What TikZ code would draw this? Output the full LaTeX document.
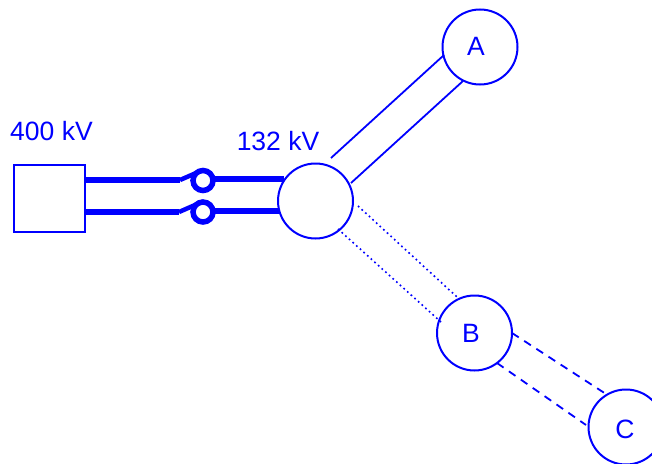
\documentclass[tikz,border=0pt]{standalone}
\usepackage{fontspec}
\setmainfont{Liberation Sans}
\begin{document}
\begin{tikzpicture}[x=1pt,y=-1pt,
  every node/.style={text=blue,font=\fontsize{26.5}{30}\selectfont,inner sep=0pt,outer sep=0pt},
  bus/.style={circle,draw=blue,line width=2pt,minimum size=75pt},
  source/.style={rectangle,draw=blue,line width=2pt,minimum width=70.5pt,minimum height=67pt},
  ring/.style={circle,draw=blue,line width=5.5pt,minimum size=20pt},
  feed/.style={draw=blue,line width=5.2pt},
  blade/.style={draw=blue,line width=4.5pt},
  lineA/.style={draw=blue,line width=1.8pt},
  lineB/.style={draw=blue,line width=1.6pt,dash pattern=on 1.7pt off 3.2pt},
  lineC/.style={draw=blue,line width=1.8pt,dash pattern=on 8pt off 6.5pt}]
\useasboundingbox (0,0) rectangle (652,463);
\begin{scope}
\clip (0,0) rectangle (652,463);
\node[source] (src) at (49.5,198.5) {};
\node[bus] (main) at (315.5,201) {};
\node[bus] (A) at (480,47) {};
\node[bus] (B) at (474.5,333) {};
\node[bus] (C) at (626,427) {};
\node (lA) at (476,46) {A};
\node (lB) at (471,333) {B};
\node (lC) at (625,429) {C};
\node[ring] (s1) at (203,180.5) {};
\node[ring] (s2) at (203,212) {};
\node (l400) at (51.5,131) {400 kV};
\node (l132) at (278,141) {132 kV};
\coordinate (a1) at (331,158); \coordinate (a2) at (444,55);
\coordinate (a3) at (351,183); \coordinate (a4) at (463,81);
\coordinate (b1) at (358,206); \coordinate (b2) at (457,297);
\coordinate (b3) at (338,229); \coordinate (b4) at (441,322);
\coordinate (c1) at (512,333); \coordinate (c2) at (606,394);
\coordinate (c3) at (497,363); \coordinate (c4) at (586,425);
\coordinate (k1) at (180,180); \coordinate (k2) at (179,212);
\coordinate (m1) at (284,179); \coordinate (m2) at (279,211);
\coordinate (t1) at (203,170); \coordinate (t2) at (203,201.5);
\coordinate (o1) at (85,180); \coordinate (o2) at (85,212);
\coordinate (r1) at (213,179); \coordinate (r2) at (213,211);
\draw[feed] (o1) -- (k1);
\draw[feed] (o2) -- (k2);
\draw[blade] (k1) -- (t1);
\draw[blade] (k2) -- (t2);
\draw[feed] (r1) -- (m1);
\draw[feed] (r2) -- (m2);
\draw[lineA] (a1) -- (a2);
\draw[lineA] (a3) -- (a4);
\draw[lineB] (b1) -- (b2);
\draw[lineB] (b3) -- (b4);
\draw[lineC] (c1) -- (c2);
\draw[lineC] (c3) -- (c4);
\end{scope}
\end{tikzpicture}
\end{document}
